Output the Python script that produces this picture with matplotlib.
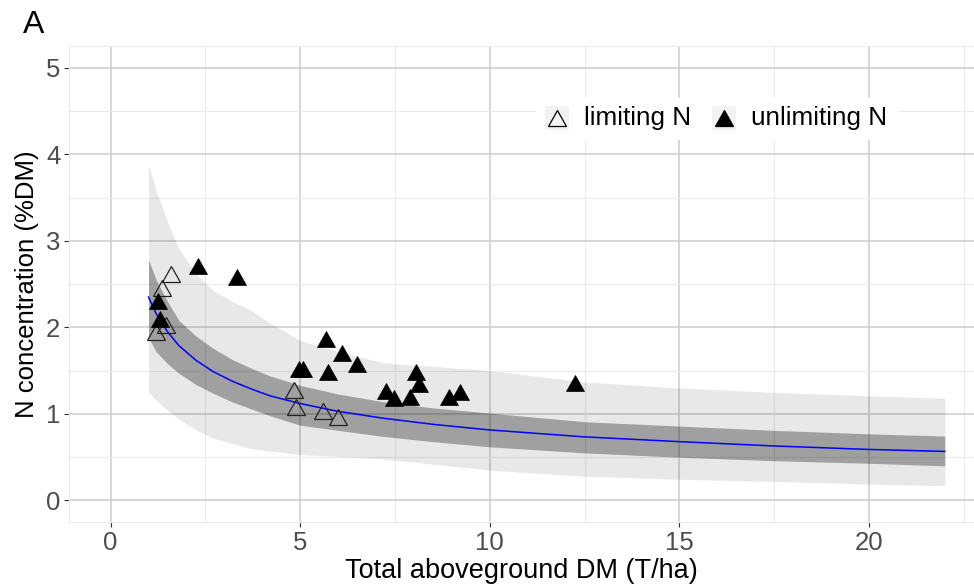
import numpy as np
import matplotlib
matplotlib.use('Agg')
import matplotlib.pyplot as plt
from matplotlib.markers import MarkerStyle
from matplotlib.transforms import Affine2D
from matplotlib.patches import Rectangle

plt.rcParams['font.family'] = ['Liberation Sans', 'DejaVu Sans']

# --- data ---
# fitted dilution curve and its two bands
curve_x = [1, 1.2, 1.5, 1.8, 2.25, 2.7, 3.2, 3.7, 4.2, 5, 6, 7.2, 8.5, 10, 12.5, 15, 17.5, 20, 22]
curve_y = [2.35, 2.16, 1.95, 1.79, 1.62, 1.49, 1.38, 1.29, 1.21, 1.12, 1.03, 0.95, 0.88, 0.815, 0.735, 0.68, 0.63, 0.59, 0.567]
inner_hi = [2.78, 2.55, 2.30, 2.08, 1.90, 1.76, 1.63, 1.53, 1.44, 1.33, 1.23, 1.14, 1.07, 1.01, 0.91, 0.86, 0.81, 0.77, 0.745]
inner_lo = [1.88, 1.72, 1.58, 1.47, 1.34, 1.24, 1.14, 1.06, 0.98, 0.87, 0.81, 0.74, 0.68, 0.62, 0.55, 0.50, 0.46, 0.43, 0.40]
outer_hi = [3.87, 3.58, 3.22, 2.91, 2.62, 2.43, 2.30, 2.20, 2.05, 1.85, 1.72, 1.59, 1.55, 1.50, 1.37, 1.30, 1.25, 1.21, 1.18]
outer_lo = [1.26, 1.16, 1.04, 0.94, 0.815, 0.72, 0.66, 0.60, 0.57, 0.53, 0.51, 0.48, 0.42, 0.35, 0.28, 0.245, 0.22, 0.19, 0.17]

# observations
lim_x = [1.60, 1.36, 1.45, 1.19, 4.83, 4.90, 5.60, 6.00]
lim_y = [2.62, 2.45, 2.03, 1.95, 1.28, 1.08, 1.03, 0.97]
unlim_x = [2.30, 3.32, 1.25, 1.31, 5.69, 6.11, 6.50, 4.98, 5.08, 5.72,
           7.26, 7.47, 7.90, 8.05, 8.14, 8.93, 9.21, 12.24]
unlim_y = [2.71, 2.58, 2.30, 2.10, 1.87, 1.70, 1.58, 1.52, 1.52, 1.49,
           1.26, 1.18, 1.20, 1.48, 1.35, 1.20, 1.25, 1.36]

x_ticks = [0, 5, 10, 15, 20]
y_ticks = [0, 1, 2, 3, 4, 5]

W, H = 974, 588
fig = plt.figure(figsize=(W / 100, H / 100), dpi=100)
ax = fig.add_axes([69.3 / W, 1 - 521.7 / H, (W - 69.3) / W, (521.7 - 46.1) / H])

ax.set_xlim(-1.09, 22.77)
ax.set_ylim(-0.245, 5.25)

# grid (ggplot style, major + minor)
ax.set_xticks(x_ticks)
ax.set_yticks(y_ticks)
ax.set_xticks([2.5, 7.5, 12.5, 17.5, 22.5], minor=True)
ax.set_yticks([0.5, 1.5, 2.5, 3.5, 4.5], minor=True)
ax.grid(which='major', color='#CDCDCD', linewidth=1.1)
ax.grid(which='minor', color='#EBEBEB', linewidth=0.8)
ax.set_axisbelow(True)
for s in ['left', 'bottom', 'top']:
    ax.spines[s].set_color('#EBEBEB')
    ax.spines[s].set_linewidth(0.8)
ax.spines['right'].set_visible(False)
ax.tick_params(which='major', length=3.5, width=0.8, color='#333333',
               labelsize=18.5, labelcolor='#4D4D4D', pad=3)
ax.tick_params(which='minor', length=0)

# bands and curve
ax.fill_between(curve_x, outer_lo, outer_hi, color='black', alpha=0.09, linewidth=0)
ax.fill_between(curve_x, inner_lo, inner_hi, color='black', alpha=0.31, linewidth=0)
ax.plot(curve_x, curve_y, color='#0000FF', linewidth=1.1)

tri = MarkerStyle('^', transform=Affine2D().scale(1, 0.87))
ax.plot(lim_x, lim_y, linestyle='none', marker=tri, markersize=12.5,
        markerfacecolor='none', markeredgecolor='#222222', markeredgewidth=0.9)
ax.plot(unlim_x, unlim_y, linestyle='none', marker=tri, markersize=12.5,
        markerfacecolor='black', markeredgecolor='black', markeredgewidth=0.5)

ax.set_xlabel('Total aboveground DM (T/ha)', fontsize=19.5, labelpad=2)
ax.set_ylabel('N concentration (%DM)', fontsize=18.5, labelpad=5)

# legend (ggplot-like, keys on grey squares)
def px(x, y):
    return ((x - 69.3) / (W - 69.3), (521.7 - y) / (521.7 - 46.1))

lx, ly = px(536, 140)
lw_, lh_ = (898 - 536) / (W - 69.3), 42 / (521.7 - 46.1)
ax.add_patch(Rectangle((lx, ly), lw_, lh_, transform=ax.transAxes,
                       facecolor='white', edgecolor='none', zorder=5))
for kx, lab, face in [(557, 'limiting N', 'none'), (724, 'unlimiting N', 'black')]:
    bx, by = px(kx - 12, 130)
    ax.add_patch(Rectangle((bx, by), 24 / (W - 69.3), 24 / (521.7 - 46.1),
                           transform=ax.transAxes, facecolor='#F2F2F2',
                           edgecolor='none', zorder=6))
    mx, my = px(kx, 118)
    ax.plot([mx], [my], transform=ax.transAxes, marker=tri, markersize=12.5,
            markerfacecolor=face, markeredgecolor='black', markeredgewidth=0.9,
            zorder=7, clip_on=False)
    tx, ty = px(kx + 27, 118)
    ax.text(tx, ty, lab, transform=ax.transAxes, fontsize=18.8, va='center',
            ha='left', zorder=7)

fig.text(23 / W, 1 - 33 / H, 'A', fontsize=23, va='baseline', ha='left')

fig.savefig('out.png', dpi=100)
